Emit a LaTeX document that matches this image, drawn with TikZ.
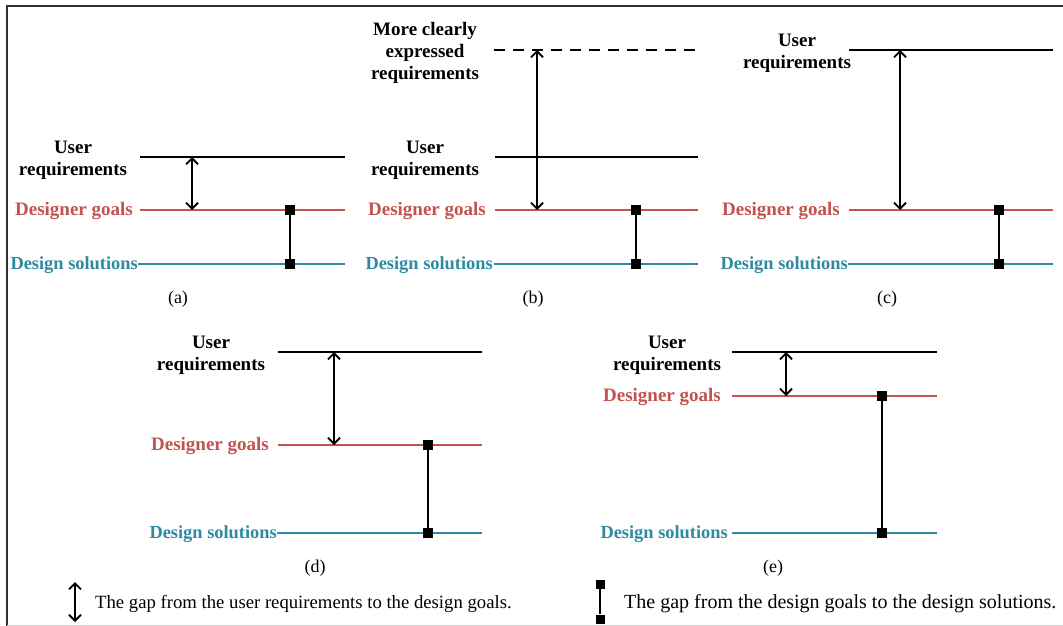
\documentclass[tikz,border=0pt]{standalone}
\usepackage{fontspec}
\setmainfont{Liberation Serif}
\usetikzlibrary{arrows.meta}
\definecolor{goalred}{RGB}{196,82,78}
\definecolor{soluteal}{RGB}{45,138,160}
\definecolor{framegrey}{RGB}{50,50,50}
\tikzset{
  lbl/.style={font=\fontsize{19}{22}\selectfont\bfseries, inner sep=0pt, align=center},
  panelcap/.style={font=\fontsize{18}{21}\selectfont, inner sep=0pt},
  leg/.style={font=\fontsize{19}{22}\selectfont, inner sep=0pt, anchor=mid west},
  ureq/.style={draw=black, line width=2.1pt},
  goal/.style={draw=goalred, line width=2.1pt},
  sol/.style={draw=soluteal, line width=2.1pt},
  gaparrow/.style={{Straight Barb[length=6pt,width=12pt]}-{Straight Barb[length=6pt,width=12pt]}, line width=1.9pt},
  sq/.style={rectangle, fill=black, minimum size=10pt, inner sep=0pt},
  sqlink/.style={line width=2.1pt}
}
\begin{document}
\begin{tikzpicture}[x=1pt,y=-1pt]
\useasboundingbox (0,0) rectangle (1063,626);
% frame
\draw[framegrey, line width=2.5pt] (7,626) -- (7,6) -- (1063,6);
\draw[black!20, line width=1pt] (7,625) -- (1063,625);

% ---------- panel (a)
\node[lbl] (a-ul) at (73,160) {User\\requirements};
\node[lbl, text=goalred, anchor=mid east] (a-gl) at (133,213) {Designer goals};
\node[lbl, text=soluteal, anchor=mid east, font=\fontsize{18.4}{22}\selectfont\bfseries] (a-sl) at (138,267) {Design solutions};
\draw[ureq] (140,157) coordinate (a-u0) -- (345,157) coordinate (a-u1);
\draw[goal] (140,210) coordinate (a-g0) -- (345,210) coordinate (a-g1);
\draw[sol] (138,264) coordinate (a-s0) -- (345,264) coordinate (a-s1);
\coordinate (a-at) at (192,157);
\coordinate (a-ab) at (192,210);
\draw[gaparrow] (a-at) -- (a-ab);
\node[sq] (a-q1) at (290,210) {};
\node[sq] (a-q2) at (290,264) {};
\draw[sqlink] (a-q1) -- (a-q2);
\node[panelcap] (a-cap) at (178,299) {(a)};

% ---------- panel (b)
\node[lbl] (b-ml) at (425,52.5) {More clearly\\expressed\\requirements};
\node[lbl] (b-ul) at (425,160) {User\\requirements};
\node[lbl, text=goalred, anchor=mid east] (b-gl) at (486,213) {Designer goals};
\node[lbl, text=soluteal, anchor=mid east, font=\fontsize{18.4}{22}\selectfont\bfseries] (b-sl) at (493,267) {Design solutions};
\draw[black, line width=2.1pt, dash pattern=on 11pt off 8pt] (494,50) coordinate (b-m0) -- (698,50) coordinate (b-m1);
\draw[ureq] (495,157) coordinate (b-u0) -- (698,157) coordinate (b-u1);
\draw[goal] (495,210) coordinate (b-g0) -- (698,210) coordinate (b-g1);
\draw[sol] (494,264) coordinate (b-s0) -- (698,264) coordinate (b-s1);
\coordinate (b-at) at (537,50);
\coordinate (b-ab) at (537,210);
\draw[gaparrow] (b-at) -- (b-ab);
\node[sq] (b-q1) at (636,210) {};
\node[sq] (b-q2) at (636,264) {};
\draw[sqlink] (b-q1) -- (b-q2);
\node[panelcap] (b-cap) at (533,299) {(b)};

% ---------- panel (c)
\node[lbl] (c-ul) at (797,53) {User\\requirements};
\node[lbl, text=goalred, anchor=mid east] (c-gl) at (840,213) {Designer goals};
\node[lbl, text=soluteal, anchor=mid east, font=\fontsize{18.4}{22}\selectfont\bfseries] (c-sl) at (848,267) {Design solutions};
\draw[ureq] (849,50) coordinate (c-u0) -- (1053,50) coordinate (c-u1);
\draw[goal] (849,210) coordinate (c-g0) -- (1053,210) coordinate (c-g1);
\draw[sol] (848,264) coordinate (c-s0) -- (1053,264) coordinate (c-s1);
\coordinate (c-at) at (900,50);
\coordinate (c-ab) at (900,210);
\draw[gaparrow] (c-at) -- (c-ab);
\node[sq] (c-q1) at (999,210) {};
\node[sq] (c-q2) at (999,264) {};
\draw[sqlink] (c-q1) -- (c-q2);
\node[panelcap] (c-cap) at (887,299) {(c)};

% ---------- panel (d)
\node[lbl] (d-ul) at (211,355) {User\\requirements};
\node[lbl, text=goalred, anchor=mid east] (d-gl) at (269,448) {Designer goals};
\node[lbl, text=soluteal, anchor=mid east, font=\fontsize{18.4}{22}\selectfont\bfseries] (d-sl) at (277,536) {Design solutions};
\draw[ureq] (278,352) coordinate (d-u0) -- (482,352) coordinate (d-u1);
\draw[goal] (278,445) coordinate (d-g0) -- (482,445) coordinate (d-g1);
\draw[sol] (277,533) coordinate (d-s0) -- (482,533) coordinate (d-s1);
\coordinate (d-at) at (334,352);
\coordinate (d-ab) at (334,445);
\draw[gaparrow] (d-at) -- (d-ab);
\node[sq] (d-q1) at (428,445) {};
\node[sq] (d-q2) at (428,533) {};
\draw[sqlink] (d-q1) -- (d-q2);
\node[panelcap] (d-cap) at (315,568) {(d)};

% ---------- panel (e)
\node[lbl] (e-ul) at (667,355) {User\\requirements};
\node[lbl, text=goalred, anchor=mid east] (e-gl) at (721,399) {Designer goals};
\node[lbl, text=soluteal, anchor=mid east, font=\fontsize{18.4}{22}\selectfont\bfseries] (e-sl) at (728,536) {Design solutions};
\draw[ureq] (732,352) coordinate (e-u0) -- (937,352) coordinate (e-u1);
\draw[goal] (732,396) coordinate (e-g0) -- (937,396) coordinate (e-g1);
\draw[sol] (732,533) coordinate (e-s0) -- (937,533) coordinate (e-s1);
\coordinate (e-at) at (786,352);
\coordinate (e-ab) at (786,396);
\draw[gaparrow] (e-at) -- (e-ab);
\node[sq] (e-q1) at (882,396) {};
\node[sq] (e-q2) at (882,533) {};
\draw[sqlink] (e-q1) -- (e-q2);
\node[panelcap] (e-cap) at (773,568) {(e)};

% ---------- legend
\coordinate (l1t) at (75,582);
\coordinate (l1b) at (75,622);
\draw[gaparrow] (l1t) -- (l1b);
\node[leg, font=\fontsize{18.7}{22}\selectfont] (l1txt) at (95,606) {The gap from the user requirements to the design goals.};
\node[sq, minimum size=9pt] (l2t) at (600,584) {};
\node[sq, minimum size=9pt] (l2b) at (600,619) {};
\draw[sqlink] (l2t) -- (l2b);
\node[leg, font=\fontsize{20}{22}\selectfont] (l2txt) at (624,606) {The gap from the design goals to the design solutions.};
\end{tikzpicture}
\end{document}
